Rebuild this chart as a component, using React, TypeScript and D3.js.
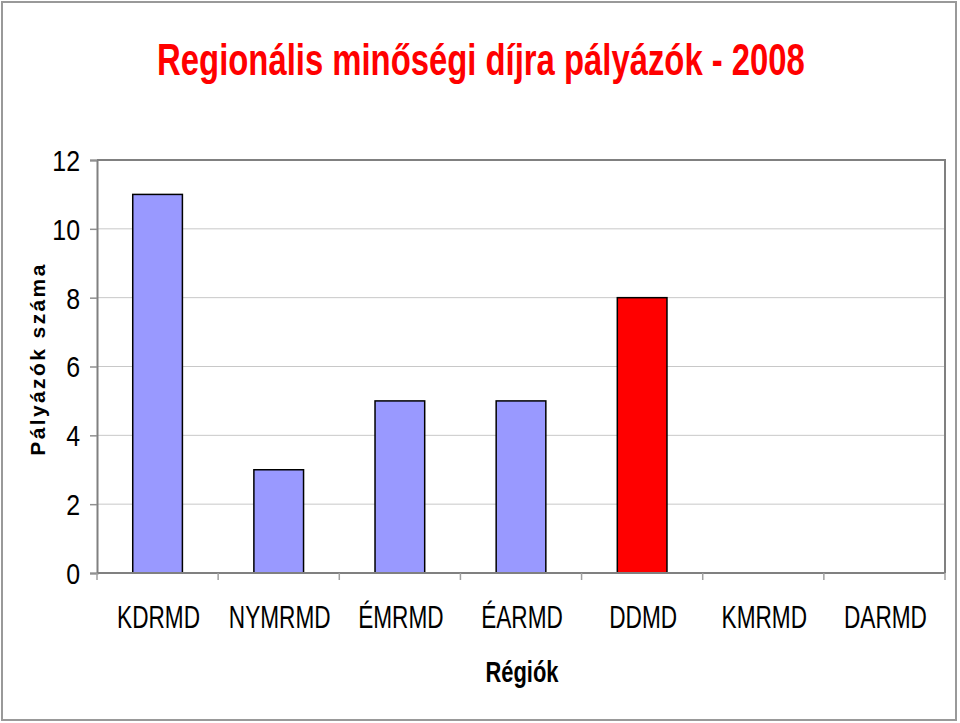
import { useEffect, useRef } from "react";
import * as d3 from "d3";

const regions = ["KDRMD", "NYMRMD", "ÉMRMD", "ÉARMD", "DDMD", "KMRMD", "DARMD"];
const applicants = [11, 3, 5, 5, 8, 0, 0];
const highlighted = ["DDMD"];
const yTicks = [0, 2, 4, 6, 8, 10, 12];

const FONT = "'Liberation Sans', Arial, sans-serif";
// the original uses a narrow face, so glyphs are squeezed horizontally
const SQUEEZE = 0.73;
const TICK_SQUEEZE = 0.86;

export default function App() {
  const svgRef = useRef<SVGSVGElement | null>(null);

  useEffect(() => {
    const svgEl = svgRef.current;
    if (!svgEl) return;
    const width = 960;
    const height = 723;
    const margin = { top: 160, right: 15, bottom: 150, left: 97 };
    const chartW = width - margin.left - margin.right;
    const chartH = height - margin.top - margin.bottom;

    const svg = d3.select(svgEl);
    svg.selectAll("*").remove();

    svg
      .append("rect")
      .attr("x", 2)
      .attr("y", 2)
      .attr("width", width - 6)
      .attr("height", height - 5)
      .attr("fill", "#fff")
      .attr("stroke", "#999")
      .attr("stroke-width", 2);

    const squeezed = (x: number, y: number) =>
      svg.append("g").attr("transform", `translate(${x},${y}) scale(${SQUEEZE},1)`).append("text");

    squeezed(481, 75)
      .attr("text-anchor", "middle")
      .attr("font-family", FONT)
      .attr("font-weight", "bold")
      .attr("font-size", 45)
      .attr("fill", "#ff0000")
      .text("Regionális minőségi díjra pályázók - 2008");

    const x = d3.scaleBand().domain(regions).range([0, chartW]).paddingInner(0.59).paddingOuter(0.295);
    const xAxisBand = d3.scaleBand().domain(regions).range([0, chartW]);
    const y = d3.scaleLinear().domain([0, 12]).range([chartH, 0]);

    const g = svg.append("g").attr("transform", `translate(${margin.left},${margin.top})`);

    g.append("g")
      .selectAll("line")
      .data(yTicks.filter((t) => t > 0 && t < 12))
      .join("line")
      .attr("x1", 0)
      .attr("x2", chartW)
      .attr("y1", (d) => y(d))
      .attr("y2", (d) => y(d))
      .attr("stroke", "#c8c8c8")
      .attr("stroke-width", 1);

    // plot frame top & right
    g.append("path")
      .attr("d", `M0,${y(12)}H${chartW}V${chartH}`)
      .attr("fill", "none")
      .attr("stroke", "#808080")
      .attr("stroke-width", 2);

    g.selectAll("rect.bar")
      .data(regions.map((r, i) => ({ r, v: applicants[i] })))
      .join("rect")
      .attr("class", "bar")
      .attr("x", (d) => x(d.r) ?? 0)
      .attr("y", (d) => y(d.v))
      .attr("width", x.bandwidth())
      .attr("height", (d) => chartH - y(d.v))
      .attr("fill", (d) => (highlighted.includes(d.r) ? "#ff0000" : "#9999ff"))
      .attr("stroke", "#000")
      .attr("stroke-width", 1.5)
      .style("display", (d) => (d.v > 0 ? null : "none"));

    const yAxis = g
      .append("g")
      .call(d3.axisLeft(y).tickValues(yTicks).tickSize(7).tickFormat(d3.format("d")));
    yAxis.select(".domain").attr("stroke", "#808080").attr("stroke-width", 2);
    yAxis.selectAll(".tick line").attr("stroke", "#909090").attr("stroke-width", 1.5);
    yAxis
      .selectAll("text")
      .attr("font-family", FONT)
      .attr("font-size", 29)
      .attr("fill", "#000")
      .attr("x", -17 / TICK_SQUEEZE)
      .attr("dy", "0.36em")
      .attr("transform", `scale(${TICK_SQUEEZE},1)`);

    const xAxis = g.append("g").attr("transform", `translate(0,${chartH})`);
    xAxis
      .append("line")
      .attr("x1", 0)
      .attr("x2", chartW)
      .attr("stroke", "#808080")
      .attr("stroke-width", 2);
    xAxis
      .selectAll("line.sep")
      .data(d3.range(regions.length + 1))
      .join("line")
      .attr("class", "sep")
      .attr("x1", (i) => i * xAxisBand.step())
      .attr("x2", (i) => i * xAxisBand.step())
      .attr("y1", 0)
      .attr("y2", 7)
      .attr("stroke", "#a0a0a0")
      .attr("stroke-width", 1.5);
    xAxis
      .selectAll("g.lab")
      .data(regions)
      .join("g")
      .attr("class", "lab")
      .attr(
        "transform",
        (d) => `translate(${(xAxisBand(d) ?? 0) + xAxisBand.bandwidth() / 2 + 1},55) scale(${SQUEEZE},1)`
      )
      .append("text")
      .attr("text-anchor", "middle")
      .attr("font-family", FONT)
      .attr("font-size", 31)
      .attr("fill", "#000")
      .text((d) => d);

    squeezed(522, 682)
      .attr("text-anchor", "middle")
      .attr("font-family", FONT)
      .attr("font-weight", "bold")
      .attr("font-size", 30)
      .attr("fill", "#000")
      .text("Régiók");

    svg
      .append("text")
      .attr("transform", "translate(45,359) rotate(-90)")
      .attr("text-anchor", "middle")
      .attr("font-family", FONT)
      .attr("font-weight", "bold")
      .attr("font-size", 21)
      .attr("letter-spacing", 2.4)
      .attr("fill", "#000")
      .text("Pályázók száma");
  }, []);

  return (
    <div style={{ position: "absolute", left: 0, top: 0 }}>
      <svg ref={svgRef} width={960} height={723} style={{ display: "block" }} />
    </div>
  );
}
